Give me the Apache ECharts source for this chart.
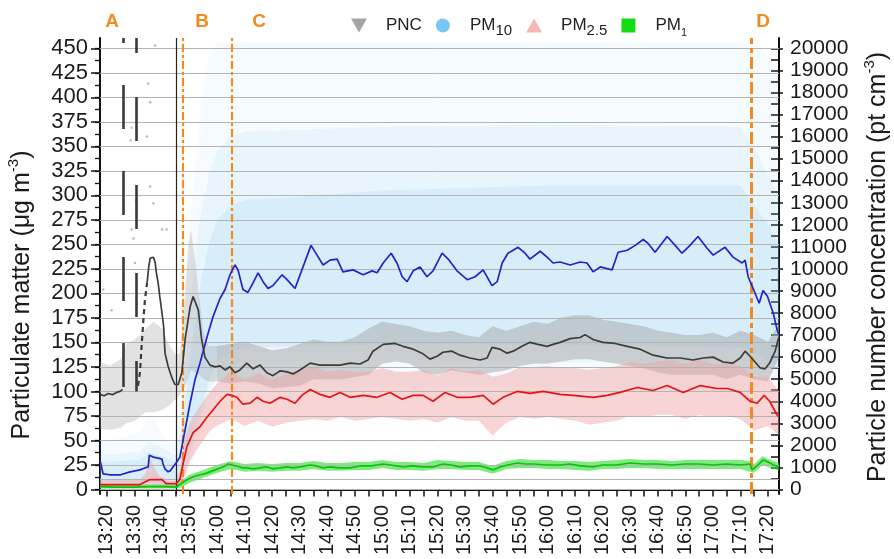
<!DOCTYPE html>
<html><head><meta charset="utf-8">
<script src="https://cdn.jsdelivr.net/npm/echarts@6/dist/echarts.min.js"></script>
<style>html,body{margin:0;padding:0;background:#fff}#c{width:894px;height:559px}</style>
</head><body><div id="c"></div>
<script>
// ---- DATA (time = minutes after midnight) ----
const timeTicks = [800,810,820,830,840,850,860,870,880,890,900,910,920,930,940,950,960,970,980,990,1000,1010,1020,1030,1040];
const timeMinorTicks = [800,805,810,815,820,825,830,835,840,845,850,855,860,865,870,875,880,885,890,895,900,905,910,915,920,925,930,935,940,945,950,955,960,965,970,975,980,985,990,995,1000,1005,1010,1015,1020,1025,1030,1035,1040];
const pmTicks = [0,25,50,75,100,125,150,175,200,225,250,275,300,325,350,375,400,425,450];
const pmMinorTicks = [0,12.5,25,37.5,50,62.5,75,87.5,100,112.5,125,137.5,150,162.5,175,187.5,200,212.5,225,237.5,250,262.5,275,287.5,300,312.5,325,337.5,350,362.5,375,387.5,400,412.5,425,437.5,450];
const pncTicks = [0,1000,2000,3000,4000,5000,6000,7000,8000,9000,10000,11000,12000,13000,14000,15000,16000,17000,18000,19000,20000];
const pncMinorTicks = [0,500,1000,1500,2000,2500,3000,3500,4000,4500,5000,5500,6000,6500,7000,7500,8000,8500,9000,9500,10000,10500,11000,11500,12000,12500,13000,13500,14000,14500,15000,15500,16000,16500,17000,17500,18000,18500,19000,19500,20000];
const extraGridValues = [10.5];

// event markers
const eventTimes = {A1:805.85, A2:810.75, start:825.1, B:827.6, C:845.4, D:1033.9};
const phaseLabels = ['A','B','C','D'];

// moving averages
const pm10Avg = [[797.5,30],[798.6,16],[801,15],[805,15],[808.4,18],[812,20],[813.8,22],[815,23],[815.4,35],[816.9,33],[818.6,32],[820,31],[820.4,26],[821.1,21],[822.2,18],[823,19],[825.1,27],[826.5,33],[828.4,61],[830.2,88],[832,112],[833.8,129],[836.4,156],[838.5,176],[841.1,195],[842.9,204],[844.7,219],[846.5,229],[847.6,224],[849.4,204],[851.2,201],[853.1,211],[854.9,221],[856.7,212],[858.5,205],[860.3,208],[863.6,219],[865.4,214],[868.3,205],[870.8,224],[874.1,249],[876.3,239],[878.5,229],[881,234],[883.6,235],[885.7,222],[889.4,224],[893,219],[896.3,223],[898.1,221],[900.3,231],[903.2,241],[905.3,231],[907.2,217],[909,212],[911.2,223],[913.7,227],[916.2,217],[918.4,223],[921.7,241],[923.9,235],[927.1,223],[930.8,214],[933.7,217],[936.6,224],[939.8,208],[941.7,212],[943.5,231],[945.6,241],[949.3,247],[951.8,241],[953.6,235],[957.3,243],[959.8,237],[962,231],[964.5,232],[968.2,229],[971.8,232],[974.3,231],[976.5,222],[979.1,227],[983.4,224],[985.6,242],[988.9,244],[991.8,249],[994.7,255],[996.5,251],[999,242],[1003.4,258],[1006.3,249],[1008.8,241],[1011.7,249],[1014.6,258],[1017.9,246],[1020.1,239],[1024.4,247],[1027.3,237],[1030.6,231],[1031.7,234],[1032.8,217],[1034.6,205],[1036.8,190],[1038.2,203],[1039.8,197],[1041.9,180],[1043.3,163],[1044,158]];
const pm25Avg = [[797.5,5],[805,5],[812,5],[815.4,10],[820,10],[821.5,6],[825.1,6],[826.5,10],[827.7,27],[829.1,44],[831.3,58],[833.8,64],[836.4,74],[838.5,81],[841.1,90],[843.6,97],[845.4,96],[847.2,94],[849.4,87],[852,88],[854.5,94],[856.7,90],[859.2,88],[862.9,94],[865.4,92],[868.3,88],[870.8,96],[873.8,102],[877.4,97],[881,94],[884.6,99],[888.3,94],[893,96],[898.1,94],[902.8,99],[907.2,92],[911.2,96],[914.8,96],[918.4,90],[922.8,99],[927.1,94],[931.8,94],[936.6,96],[940.2,87],[943.8,94],[948.9,100],[953.6,98],[958.4,100],[964.5,97],[969.3,96],[976.5,94],[981.6,96],[986.3,99],[992.5,104],[998.3,101],[1003.4,106],[1009.2,99],[1015.4,106],[1021.5,103],[1025.2,103],[1029.9,99],[1033.5,90],[1036.1,88],[1038.6,96],[1040.6,90],[1043.3,76],[1044,74]];
const pm1Avg = [[797.5,3],[803,2.5],[810,2.5],[815,3],[820,3],[825.1,2.5],[826.5,5],[828,8],[829.1,10],[831.3,13],[833.8,15],[835.6,16],[837.4,18],[839.3,20],[841.1,22],[842.9,24],[844,26],[845.4,25],[847,24],[849.4,22],[851,22],[853.1,21],[855.6,22],[858.1,23],[860.3,21],[862.9,22],[865.4,23],[867.6,22],[870.1,23],[873.8,25],[876,24],[878.5,22],[881,23],[884,22],[888.3,22],[891.9,24],[896,24],[900.3,26],[903,25],[907.5,23],[911,24],[914.4,23],[918.4,23],[922,26],[925,25],[928.2,23],[931.8,24],[935.5,24],[938,22],[940.2,20],[942.7,23],[945.6,25],[948.9,27],[952,26],[955,26],[959.8,25],[964.5,25],[968,26],[972,24],[976.5,23],[980,25],[985,25],[990,27],[995,26],[1000,26],[1005,25],[1010,26],[1015,26],[1020,25],[1025,26],[1030,25],[1033.5,26],[1034.2,20],[1036,24],[1038.2,30],[1040,28],[1042,25],[1044,23]];
const pncAvgEarly = [[797.5,4310],[799,4250],[800.5,4350],[802,4300],[803.5,4400],[804.8,4450],[805.7,4530]];
const pncAvgRise = [[811.3,4700],[812,5300],[812.6,6500],[813.2,7600],[813.8,8580],[814.6,9380]];
const pncAvgMain = [[814.6,9380],[815.2,10100],[815.7,10490],[816.3,10580],[816.9,10530],[817.5,10300],[818,9800],[818.6,9380],[819.2,8750],[820,8000],[820.6,7400],[821.1,6180],[822.2,5600],[822.9,5330],[823.8,5000],[824.7,4760],[825.9,4760],[827.2,5290],[828.4,6800],[830.2,8270],[831.3,8750],[832,8840],[833.2,8130],[834.4,6800],[835.6,6000],[837.4,5640],[839.3,5560],[841.1,5600],[842.9,5420],[844.7,5560],[846.5,5290],[848.3,5420],[850.8,5730],[853.1,5470],[855.6,5640],[858.1,5290],[860.3,5160],[862.9,5380],[865.4,5330],[867.6,5240],[870.1,5420],[873.8,5730],[877.4,5640],[881,5640],[884.6,5640],[888.3,5730],[891.9,5690],[894.8,5870],[896.6,6270],[900.3,6580],[904.6,6620],[907.5,6490],[911.2,6360],[914.4,6180],[917.3,5910],[919.9,6040],[922,6220],[925.3,6270],[928.2,6090],[931.8,5960],[935.5,5870],[938,5960],[939.8,6440],[942.7,6360],[945.3,6180],[947.5,6270],[950.7,6490],[953.6,6670],[956.5,6580],[959.8,6490],[962,6580],[964.5,6670],[968.2,6840],[971.8,6890],[973.6,7020],[976.5,6800],[980.1,6670],[984.5,6620],[988.9,6490],[993.6,6360],[998.3,6090],[1003.4,5960],[1008.1,5960],[1012.8,5870],[1016.5,5960],[1020.1,6000],[1023.7,5780],[1027.3,5730],[1029.9,5960],[1031.7,6270],[1033.5,6040],[1035.3,5780],[1037.2,5510],[1039,5470],[1040.6,5730],[1042.6,6270],[1043.7,6800],[1044,6900]];

// raw-measurement clouds: [time, low, high]
const pm10Sparse = [[797.5,3,48],[805,3,52],[812,3,58],[814,3,70],[816,3,78],[819,3,62],[822,3,50],[825,4,48],[826.5,6,80],[828,10,160],[830,20,260],[832,35,330],[834,55,390],[837,80,440],[840,95,456],[845,100,456],[900,105,456],[960,105,456],[1033,100,456],[1036,105,456],[1040,110,440],[1044,110,420]];
const pm10Mid = [[797.5,5,35],[812,5,38],[815,6,50],[820,6,42],[825,6,35],[826.5,10,55],[828,18,110],[830,30,180],[832,50,240],[834,70,280],[837,100,320],[840,115,345],[845,125,360],[850,130,365],[900,132,370],[960,130,372],[1030,130,370],[1035,130,350],[1040,125,320],[1044,120,300]];
const pm10Dense = [[797.5,7,28],[812,7,30],[815,8,38],[820,8,34],[825,8,28],[826.5,14,40],[828,25,80],[830,40,130],[832,60,170],[834,80,210],[837,110,250],[840,130,275],[845,140,290],[850,145,295],[900,148,305],[960,148,310],[1030,145,310],[1035,140,290],[1040,130,270],[1044,125,250]];
const pncCloudEarly = [[797.5,2750,5800],[801,2700,5600],[805,2800,5900],[807,3000,6600],[810,3100,6800],[812,3300,7000],[814,3500,7300],[817,3500,7600],[820,3600,7300],[822.5,3800,6600],[825,4100,6100],[826.5,4300,6200],[828,4600,8200],[829.5,5000,11000],[830.5,5400,11800],[832,5300,10400],[833.5,5200,8700],[835,5000,7200],[837,4900,6500],[840,4900,6500]];
const pncCloud = [[840,4900,6500],[845,4800,6600],[850,4900,6700],[855,4800,6500],[860,4600,6300],[865,4650,6400],[870,4700,6600],[875,5000,6800],[880,5000,6700],[885,5000,6700],[890,5100,6900],[895,5200,7300],[900,5700,7600],[905,5800,7500],[910,5700,7400],[915,5300,7200],[920,5200,7100],[925,5400,7200],[930,5300,7000],[935,5200,6900],[940,5300,7400],[945,5400,7200],[950,5600,7400],[955,5700,7600],[960,5700,7500],[965,5800,7800],[970,5900,7900],[975,5900,7900],[980,5800,7700],[985,5700,7600],[990,5600,7500],[995,5500,7400],[1000,5300,7200],[1005,5200,7100],[1010,5200,7000],[1015,5200,7000],[1020,5200,7100],[1025,5000,6900],[1030,5200,7200],[1035,5000,7000],[1040,4900,6700],[1044,6000,7500]];
const pncStray = [[817.5,20130],[815,18400],[815.7,17550],[809,16400],[814.5,16000],[808.6,15820],[810.6,13100],[815.7,13730],[816.9,12980],[809,11780],[809.6,11380],[820,11780],[821.7,11780],[810.2,10270],[798.7,9070],[801.7,8130]];
const pm25Cloud = [[797.5,2,10],[812,2,10],[814,3,16],[815.5,5,32],[817,4,24],[819,3,14],[822,3,9],[825,3,9],[826.5,4,20],[828,12,48],[830,28,68],[832.5,40,80],[835,50,90],[837.5,60,100],[840,65,108],[845,72,120],[850,65,112],[855,70,118],[860,64,112],[865,68,118],[870,70,122],[875,72,125],[880,70,120],[885,74,122],[890,70,120],[895,72,120],[900,74,124],[905,72,120],[910,70,120],[915,72,122],[920,68,116],[925,74,124],[930,70,120],[935,70,122],[940,55,115],[945,68,118],[950,74,125],[955,72,125],[960,74,126],[965,72,124],[970,70,124],[975,66,122],[980,68,124],[985,70,126],[990,75,130],[995,74,128],[1000,76,130],[1005,76,132],[1010,72,128],[1015,76,132],[1020,74,128],[1025,75,130],[1030,72,126],[1035,60,115],[1040,65,115],[1044,55,100]];
const pm1Cloud = [[797.5,1,5],[825,1,5],[827,2,9],[830,7,15],[835,12,20],[840,17,25],[845,21,29],[850,18,26],[855,19,27],[860,18,26],[865,19,27],[870,19,27],[875,21,29],[880,19,27],[885,19,27],[890,20,28],[895,20,28],[900,22,30],[905,20,28],[910,20,28],[915,19,27],[920,21,30],[925,21,29],[930,20,28],[935,20,28],[940,16,24],[945,21,29],[950,22,31],[955,22,30],[960,21,30],[965,21,29],[970,20,29],[975,19,28],[980,21,29],[985,21,30],[990,22,31],[995,22,30],[1000,21,30],[1005,21,29],[1010,21,30],[1015,21,30],[1020,21,30],[1025,21,30],[1030,21,30],[1033.5,18,29],[1035,17,26],[1038,25,34],[1041,22,30],[1044,19,27]];

// ---- CHART ----
const FONT = "'Liberation Sans', Arial, Helvetica, sans-serif";
const chart = echarts.init(document.getElementById('c'), null, {renderer:'canvas'});
const fmtTime = v => Math.floor(v/60) + ':' + String(Math.round(v%60)).padStart(2,'0');

function band(name, arr, yIdx, color, z) {
  return {
    type:'custom', name, coordinateSystem:'cartesian2d', xAxisIndex:0, yAxisIndex:yIdx,
    z, silent:true, clip:true, itemStyle:{color},
    data:[[arr[0][0], arr[0][1]]],
    renderItem:(params, api) => {
      const top = arr.map(d => api.coord([d[0], d[2]]));
      const bot = arr.map(d => api.coord([d[0], d[1]])).reverse();
      return {type:'polygon', shape:{points: top.concat(bot)}, style:{fill:color}};
    }
  };
}
function line(name, data, yIdx, color, width, z, dash) {
  return {type:'line', name, data, yAxisIndex:yIdx, showSymbol:false, symbol:'none', z, silent:true,
    lineStyle:{color, width, type: dash || 'solid'}, itemStyle:{color}};
}

const orange = '#f28b1f';
const series = [
  {type:'line', name:'grid', data:[[797.5,-50]], yAxisIndex:0, showSymbol:false, lineStyle:{opacity:0}, z:0, silent:true,
    markLine:{silent:true, symbol:'none', animation:false, label:{show:false},
      lineStyle:{color:'#b3b3b3', width:1, type:'solid'},
      data: pmTicks.concat(extraGridValues).map(v => ({yAxis:v}))}},
  band('PM10', pm10Sparse, 0, 'rgba(120,195,240,0.07)', 1),
  band('PM10', pm10Mid, 0, 'rgba(120,195,240,0.10)', 1),
  band('PM10', pm10Dense, 0, 'rgba(120,195,240,0.15)', 1),
  band('PNC', pncCloudEarly, 3, 'rgba(165,165,165,0.32)', 2),
  band('PNC', pncCloud, 3, 'rgba(165,165,165,0.5)', 2),
  {type:'scatter', name:'PNC', data:pncStray, yAxisIndex:3, symbolSize:2.5, itemStyle:{color:'#a8a8a8'}, z:2, silent:true},
  band('PM2.5', pm25Cloud, 0, 'rgba(242,160,160,0.45)', 3),
  band('PM1', pm1Cloud, 0, 'rgba(40,222,40,0.6)', 4),
  line('PM10 avg', pm10Avg, 0, '#2323c8', 1.7, 5),
  line('PNC avg', pncAvgEarly, 3, '#3c3c3c', 1.7, 5),
  line('PNC avg rise', pncAvgRise, 3, '#3c3c3c', 2.2, 5, [5,4]),
  line('PNC avg', pncAvgMain, 3, '#3c3c3c', 1.7, 5),
  line('PM2.5 avg', pm25Avg, 0, '#e61414', 1.7, 5),
  line('PM1 avg', pm1Avg, 0, '#10c010', 1.7, 5),
  {type:'line', name:'events', data:[[797.5,-50]], yAxisIndex:0, showSymbol:false, lineStyle:{opacity:0}, z:10, silent:true,
    markLine:{silent:true, symbol:'none', animation:false, label:{show:false},
      data:[
        [{coord:[eventTimes.A1,460.5], lineStyle:{color:'#3a3a3a', width:2.6, type:[44,42], dashOffset:39}}, {coord:[eventTimes.A1,100]}],
        [{coord:[eventTimes.A2,460.5], lineStyle:{color:'#3a3a3a', width:2.6, type:[44,44], dashOffset:29}}, {coord:[eventTimes.A2,100]}],
        {xAxis:eventTimes.start, lineStyle:{color:'#222', width:1.2, type:'solid'}},
        {xAxis:eventTimes.B, lineStyle:{color:orange, width:2.2, type:[8,3,3,3]}},
        {xAxis:eventTimes.C, lineStyle:{color:orange, width:2.2, type:[8,3,3,3]}},
        {xAxis:eventTimes.D, lineStyle:{color:orange, width:3, type:[12,4,5,4]}}
      ]}}
];

const axisLineStyle = {show:true, lineStyle:{color:'#111', width:2}};
const option = {
  animation:false,
  backgroundColor:'#fff',
  grid:{left:100, right:115, top:38, bottom:65, containLabel:false},
  xAxis:[{type:'value', min:797.5, max:1044, position:'bottom',
    axisLine:axisLineStyle,
    axisTick:{show:true, customValues:timeMinorTicks, length:7, lineStyle:{color:'#111', width:1.5}},
    axisLabel:{customValues:timeTicks, rotate:90, formatter:fmtTime, fontSize:20, color:'#1a1a1a', fontFamily:FONT, margin:11},
    splitLine:{show:false}}],
  yAxis:[
    {type:'value', position:'left', min:-4.6, max:460.5,
      axisLine:axisLineStyle,
      axisTick:{show:true, customValues:pmTicks, length:9, lineStyle:{color:'#111', width:1.5}},
      axisLabel:{customValues:pmTicks, fontSize:22, color:'#1a1a1a', fontFamily:FONT, margin:12, formatter:v => String(v)},
      splitLine:{show:false}},
    {type:'value', position:'left', min:-4.6, max:460.5,
      axisLine:{show:false}, axisLabel:{show:false}, splitLine:{show:false},
      axisTick:{show:true, customValues:pmMinorTicks, length:5, lineStyle:{color:'#111', width:1.3}}},
    {type:'value', position:'right', min:-204, max:20466,
      axisLine:{show:false}, axisLabel:{show:false}, splitLine:{show:false},
      axisTick:{show:true, customValues:pncTicks, length:4, lineStyle:{color:'#111', width:1.5}}},
    {type:'value', position:'right', min:-204, max:20466,
      axisLine:axisLineStyle,
      axisTick:{show:true, inside:true, customValues:pncMinorTicks, length:8, lineStyle:{color:'#111', width:1.5}},
      axisLabel:{customValues:pncTicks, fontSize:21, color:'#1a1a1a', fontFamily:FONT, margin:11, formatter:v => String(v)},
      splitLine:{show:false}}
  ],
  legend:{left:346, top:12, itemWidth:16, itemHeight:14, itemGap:14, selectedMode:false,
    textStyle:{fontSize:17, color:'#222', fontFamily:FONT, padding:[0,0,0,14],
      rich:{n:{fontSize:17, color:'#222', fontFamily:FONT, lineHeight:26, verticalAlign:'middle'},
            s:{fontSize:15, color:'#222', fontFamily:FONT, verticalAlign:'bottom'},
            t:{fontSize:11, color:'#222', fontFamily:FONT, verticalAlign:'bottom'}}},
    formatter: name => name === 'PNC' ? '{n|PNC}' : name === 'PM1' ? '{n|PM}{t|1}' : '{n|PM}{s|' + name.slice(2) + '}',
    data:[
      {name:'PNC', icon:'path://M0,0L16,0L8,14Z', itemStyle:{color:'#a4a4a4'}},
      {name:'PM10', icon:'circle', itemStyle:{color:'#78c6f4'}},
      {name:'PM2.5', icon:'triangle', itemStyle:{color:'#f6b6b6'}},
      {name:'PM1', icon:'path://M1,1L13,1L13,13L1,13Z', itemStyle:{color:'#12dd12'}}
    ]},
  graphic:[
    {type:'text', x:112, y:22, style:{text:phaseLabels[0], align:'center', verticalAlign:'middle', fontSize:19, fontWeight:'bold', fill:orange, fontFamily:FONT}},
    {type:'text', x:202, y:22, style:{text:phaseLabels[1], align:'center', verticalAlign:'middle', fontSize:19, fontWeight:'bold', fill:orange, fontFamily:FONT}},
    {type:'text', x:259, y:22, style:{text:phaseLabels[2], align:'center', verticalAlign:'middle', fontSize:19, fontWeight:'bold', fill:orange, fontFamily:FONT}},
    {type:'text', x:763, y:22, style:{text:phaseLabels[3], align:'center', verticalAlign:'middle', fontSize:19, fontWeight:'bold', fill:orange, fontFamily:FONT}},
    {type:'text', x:22, y:295, rotation:Math.PI/2,
      style:{text:'Particulate matter (μg m{sup|-3})', align:'center', verticalAlign:'middle', fontSize:25, lineHeight:32, fill:'#1a1a1a', fontFamily:FONT,
        rich:{sup:{fontSize:15, verticalAlign:'top', fill:'#1a1a1a', fontFamily:FONT}}}},
    {type:'text', x:878, y:267, rotation:Math.PI/2,
      style:{text:'Particle number concentration (pt cm{sup|-3})', align:'center', verticalAlign:'middle', fontSize:25, lineHeight:32, fill:'#1a1a1a', fontFamily:FONT,
        rich:{sup:{fontSize:15, verticalAlign:'top', fill:'#1a1a1a', fontFamily:FONT}}}}
  ],
  series
};
chart.setOption(option);
</script>
</body></html>
